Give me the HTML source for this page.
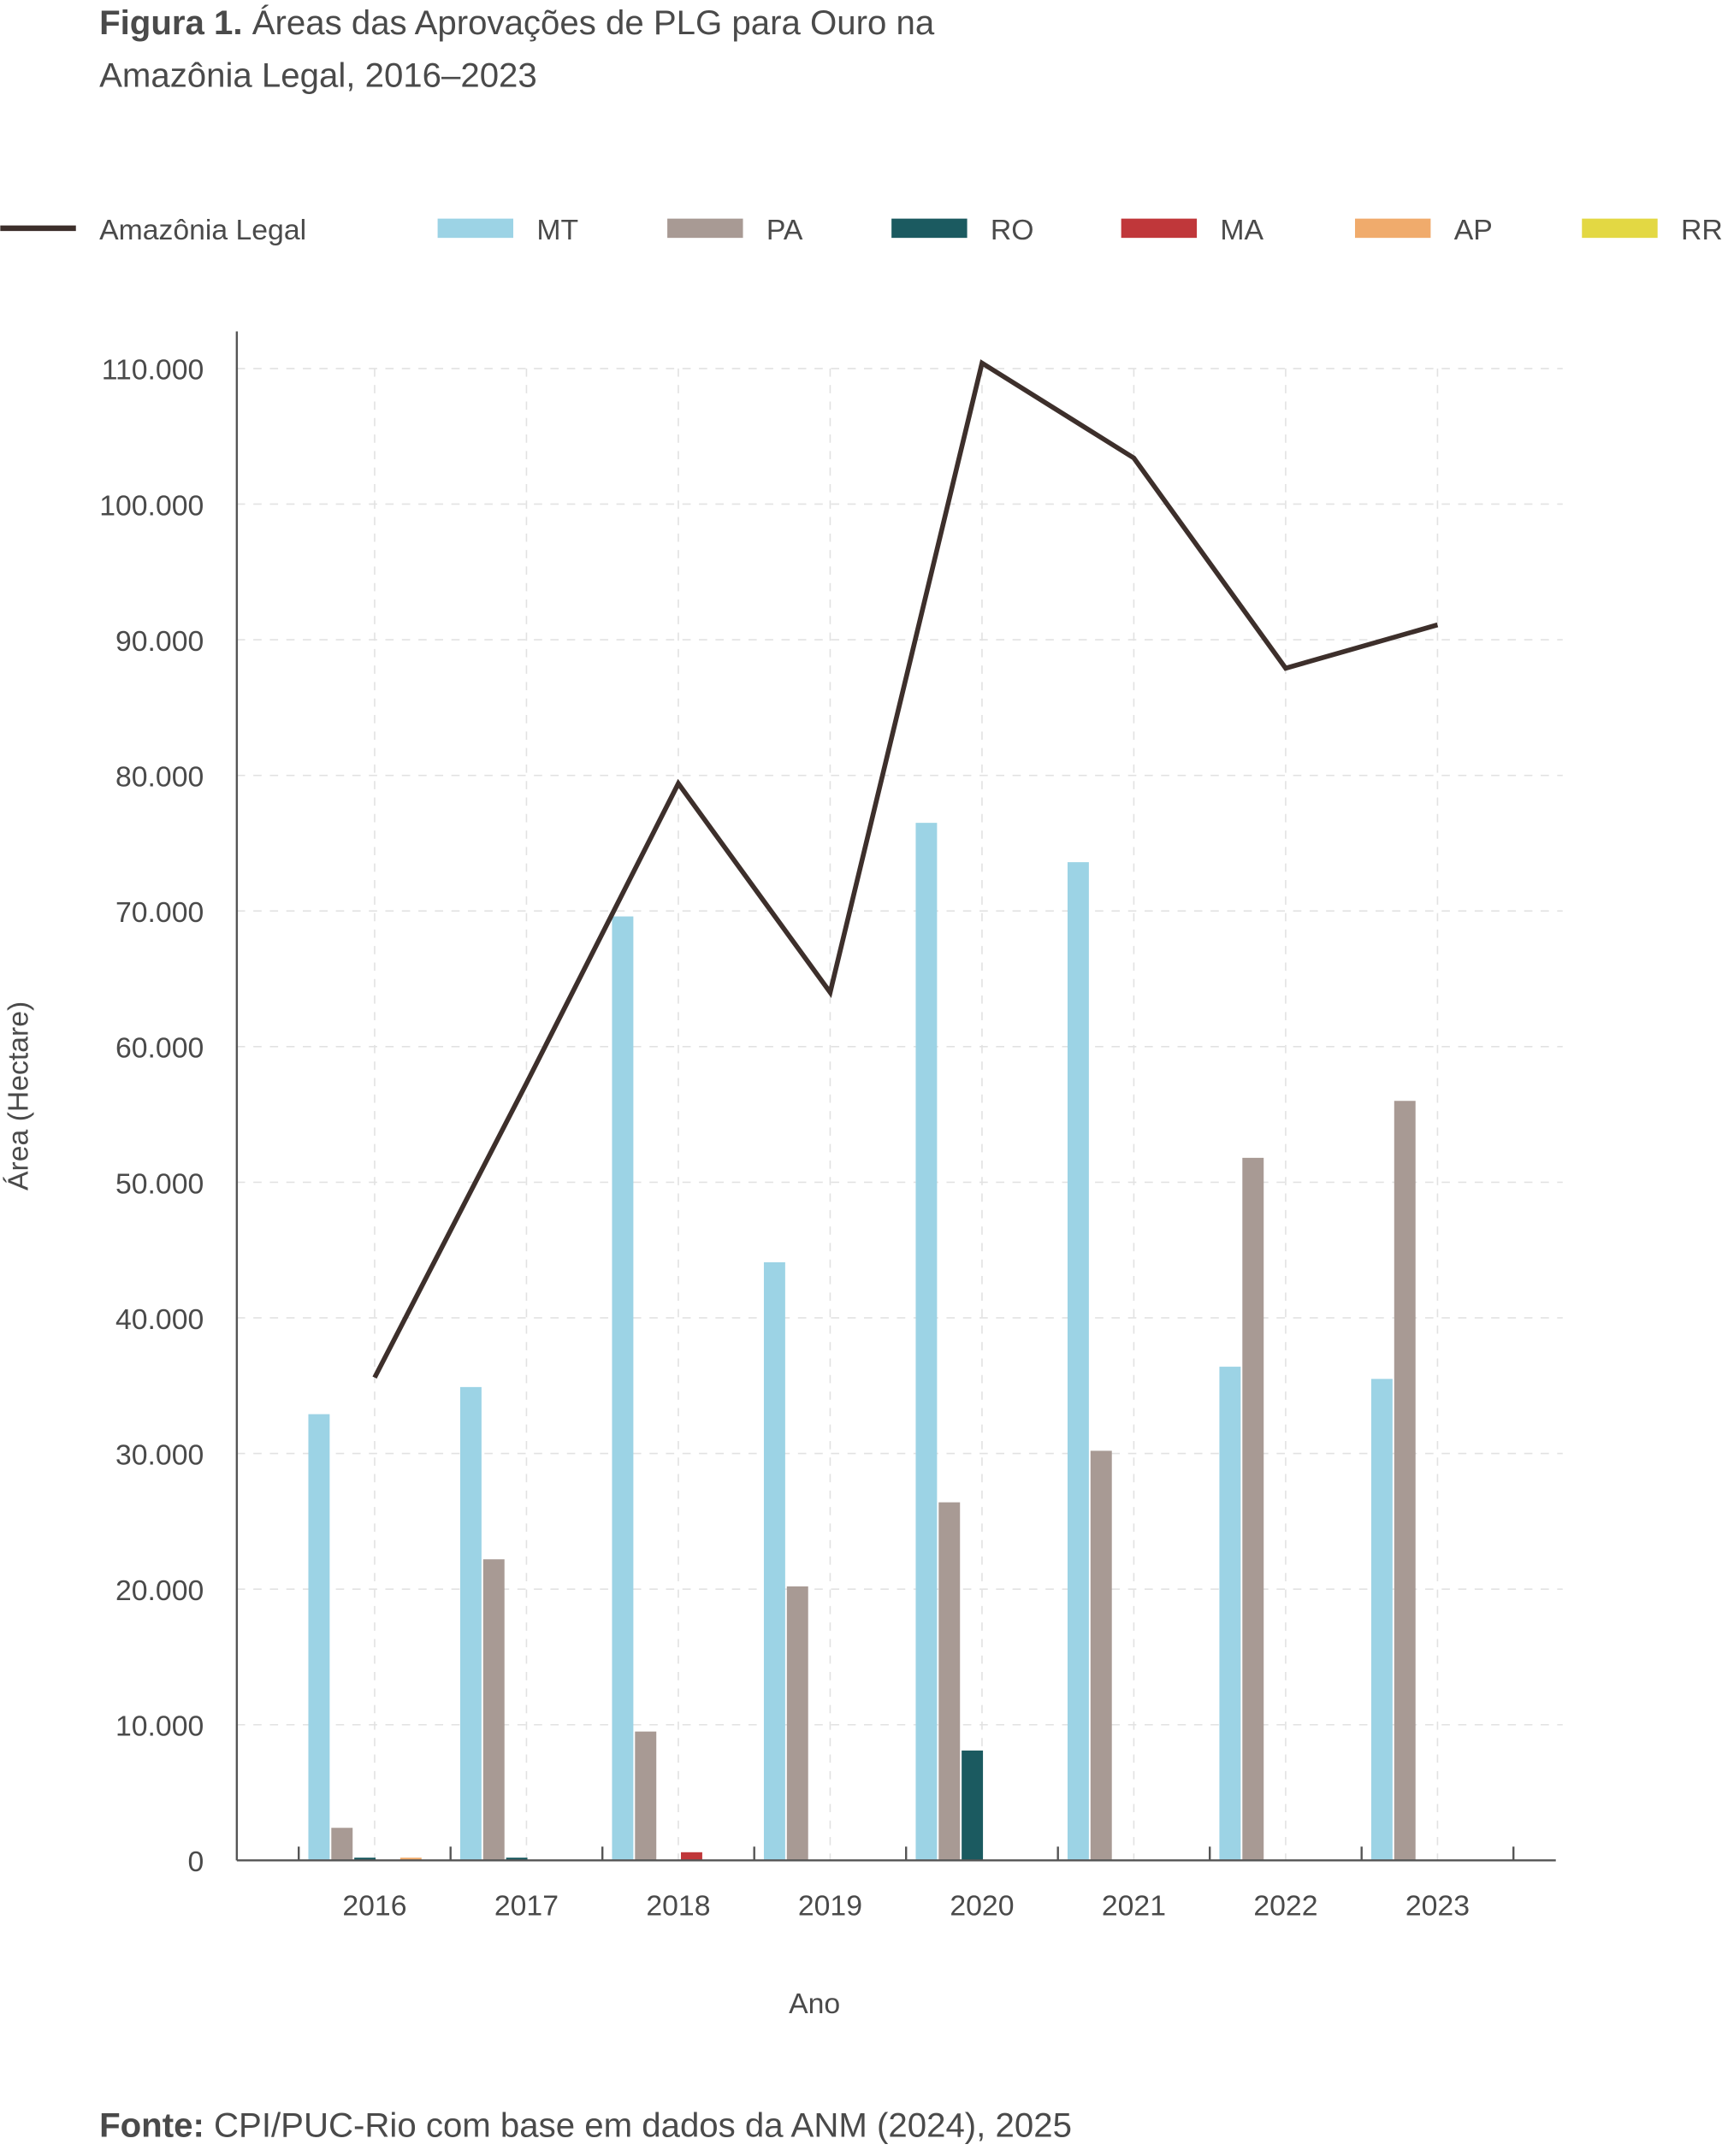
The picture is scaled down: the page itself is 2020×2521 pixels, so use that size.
<!DOCTYPE html>
<html><head><meta charset="utf-8"><style>
html,body{margin:0;padding:0;background:#fff;}
svg{display:block;font-family:"Liberation Sans",sans-serif;}
</style></head><body>
<svg id="chart" width="2020" height="2521" viewBox="0 0 1256 1568" xmlns="http://www.w3.org/2000/svg">
<text x="72" y="25" font-size="25" fill="#4a4a4a"><tspan font-weight="bold">Figura 1.</tspan> Áreas das Aprovações de PLG para Ouro na</text>
<text x="72" y="63" font-size="25" fill="#4a4a4a">Amazônia Legal, 2016–2023</text>
<g id="legend"></g>
<g id="grid"></g>
<g id="bars"></g>
<g id="axes"></g>
<text transform="translate(20,797) rotate(-90)" text-anchor="middle" font-size="21" fill="#4a4a4a">Área (Hectare)</text>
<text x="592" y="1464" text-anchor="middle" font-size="21" fill="#4a4a4a">Ano</text>
<text x="72" y="1554" font-size="25" fill="#4a4a4a"><tspan font-weight="bold">Fonte:</tspan> CPI/PUC-Rio com base em dados da ANM (2024), 2025</text>
</svg>
<script>
const years = ["2016","2017","2018","2019","2020","2021","2022","2023"];
const seriesNames = ["MT","PA","RO","MA","AP","RR"];
const mtValues = [32900,34900,69600,44100,76500,73600,36400,35500];
const paValues = [2400,22200,9500,20200,26400,30200,51800,56000];
const roValues = [200,200,0,0,8100,0,0,0];
const maValues = [0,0,600,0,0,0,0,0];
const apValues = [200,0,0,0,0,0,0,0];
const rrValues = [0,0,0,0,0,0,0,0];
const totalValues = [35600,57300,79400,64000,110400,103400,87900,91100];
const yTicks = [0,10000,20000,30000,40000,50000,60000,70000,80000,90000,100000,110000];
const yTickLabels = ["0","10.000","20.000","30.000","40.000","50.000","60.000","70.000","80.000","90.000","100.000","110.000"];

const NS="http://www.w3.org/2000/svg";
const colors=["#9cd3e5","#a89a94","#1b5a60","#c0373a","#f0ab6c","#e3d843"];
const allSeries=[mtValues,paValues,roValues,maValues,apValues,rrValues];
const x0=172,x1=1131,left=217,band=110.4,yBase=1353,yPer=(1353-268)/110000;
const y=v=>yBase-v*yPer;
const bandStart=i=>left+band*i;
const bandCenter=i=>left+band*i+band/2;
function mk(t,p,a){const e=document.createElementNS(NS,t);for(const k in a)e.setAttribute(k,a[k]);p.appendChild(e);return e;}
const grid=document.getElementById('grid'),bars=document.getElementById('bars'),axes=document.getElementById('axes'),legend=document.getElementById('legend');

yTicks.forEach((v,i)=>{
  if(v>0){const g=mk('line',grid,{x1:x0,x2:1136,y1:y(v),y2:y(v),stroke:'#e2e2e2','stroke-width':1,'stroke-dasharray':'6 6'});
  
  }
  const t=mk('text',axes,{x:148,y:y(v)+8,'text-anchor':'end','font-size':21,fill:'#4a4a4a'});t.textContent=yTickLabels[i];
  
  
});
years.forEach((yr,i)=>{
  const g=mk('line',grid,{x1:bandCenter(i),x2:bandCenter(i),y1:268,y2:yBase,stroke:'#e2e2e2','stroke-width':1,'stroke-dasharray':'6 6'});
  
  
  const t=mk('text',axes,{x:bandCenter(i),y:1393,'text-anchor':'middle','font-size':21,fill:'#4a4a4a'});t.textContent=yr;
  
  
  allSeries.forEach((s,j)=>{
    if(s[i]<=0)return;
    const r=mk('rect',bars,{x:bandStart(i)+7+j*16.7,y:y(s[i]),width:15.5,height:yBase-y(s[i]),fill:colors[j]});
    
    
  });
});
for(let i=0;i<=years.length;i++){
  const tk=mk('line',axes,{x1:bandStart(i),x2:bandStart(i),y1:yBase-10,y2:yBase,stroke:'#555','stroke-width':1.5});
  
  
}
const ya=mk('line',axes,{x1:x0,x2:x0,y1:241,y2:yBase,stroke:'#555','stroke-width':1.5});


const xa=mk('line',axes,{x1:x0,x2:x1,y1:yBase,y2:yBase,stroke:'#555','stroke-width':1.5});


const pl=mk('polyline',bars,{points:totalValues.map((v,i)=>bandCenter(i)+','+y(v)).join(' '),fill:'none',stroke:'#3d2f2b','stroke-width':3.5,'stroke-linejoin':'miter'});



const lx=[318,485,648,815,985,1150];
const ll=mk('line',legend,{x1:0,x2:55,y1:166,y2:166,stroke:'#3d2f2b','stroke-width':4});


const lt=mk('text',legend,{x:72,y:174,'font-size':21,fill:'#4a4a4a'});lt.textContent='Amazônia Legal';


seriesNames.forEach((n,j)=>{
  const r=mk('rect',legend,{x:lx[j],y:159,width:55,height:14,fill:colors[j]});
  
  
  const t=mk('text',legend,{x:lx[j]+72,y:174,'font-size':21,fill:'#4a4a4a'});t.textContent=n;
  
  
});
</script>
</body></html>
